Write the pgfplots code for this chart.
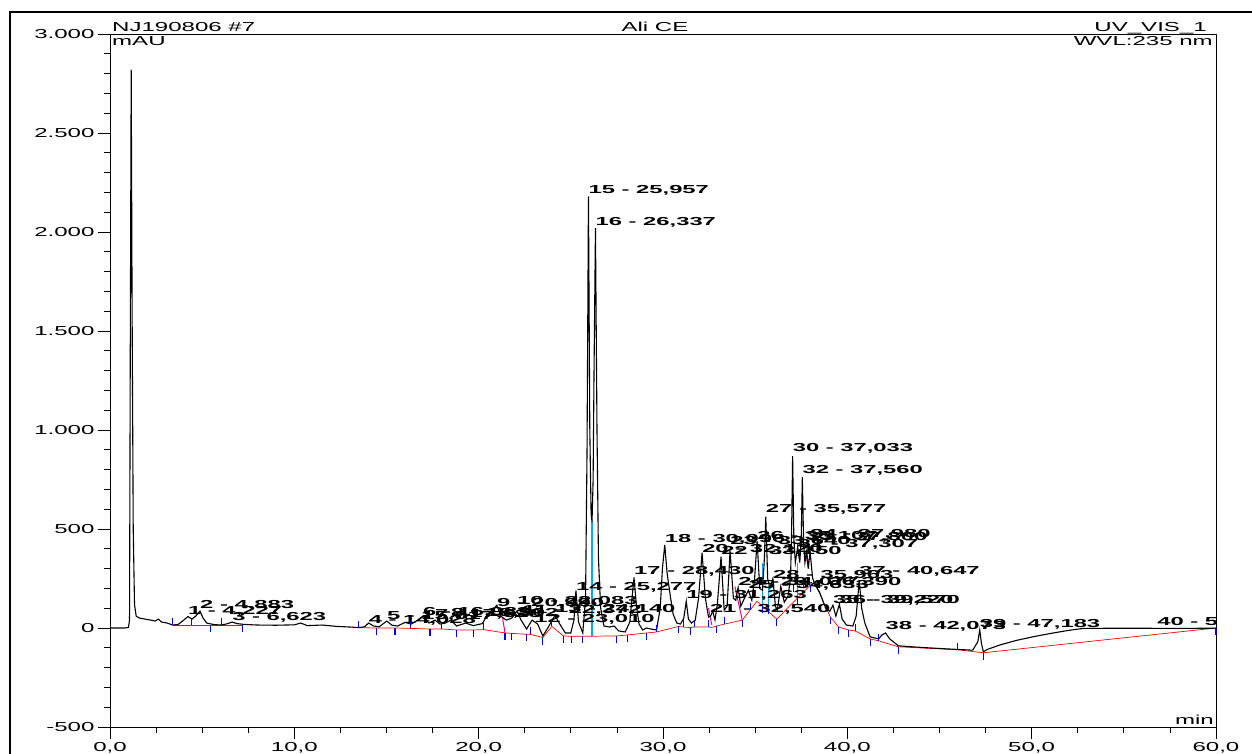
\documentclass[border=0pt]{standalone}
\usepackage{fontspec}
\newfontfamily\tickfont[FakeStretch=1.85]{Liberation Sans}
\newfontfamily\peakfont[FakeStretch=2.05]{Liberation Sans}
\usepackage{pgfplots}
\pgfplotsset{compat=1.18}

\tikzset{
  peak/.style={anchor=base west, inner sep=0pt, font=\peakfont\bfseries\fontsize{11.6}{12}\selectfont},
  hdr/.style={inner sep=0pt, font=\tickfont\fontsize{13}{13}\selectfont},
}

\begin{document}
\begin{tikzpicture}
\useasboundingbox (-110pt,-26pt) rectangle (1142pt,727pt);
\draw[line width=2pt] (-100pt,-40pt) -- (-100pt,715pt) -- (1160pt,715pt);

\begin{axis}[
    name=ax, at={(0,0)}, anchor=south west,
    scale only axis, width=1106pt, height=693pt,
    xmin=0, xmax=60, ymin=-500, ymax=3000,
    xtick={0,10,...,60},
    xticklabels={{0,0},{10,0},{20,0},{30,0},{40,0},{50,0},{60,0}},
    ytick={-500,0,...,3000},
    yticklabels={-500,0,500,1.000,1.500,2.000,2.500,3.000},
    minor x tick num=3, minor y tick num=4,
    tick align=outside, xtick pos=bottom, ytick pos=left,
    major tick length=12pt, minor tick length=6pt,
    tick style={black, line width=0.7pt},
    axis line style={line width=0.8pt},
    ticklabel style={font=\tickfont\fontsize{13}{13}\selectfont},
]

% integration baseline
\addplot[red, line width=0.7pt] coordinates {(3.4,15) (7.18,15)};
\addplot[red, line width=0.7pt] coordinates {
 (13.47,2) (14.47,0) (15.46,0) (16.28,-2) (17.36,-5) (18.0,-5) (18.8,-10) (19.7,-10)
 (20.26,-8) (21.43,-25) (21.8,-27) (22.6,-32) (22.8,-32) (23.48,-48) (23.97,8) (24.6,-40)
 (25.05,-42) (25.65,-42) (27.49,-40) (28.07,-35) (29.12,-25) (29.66,-20) (30.84,8) (31.1,5)
 (31.47,2) (31.7,5) (32.47,5) (32.65,3) (32.9,10) (33.35,20) (34.3,40) (35.1,135)
 (36.17,45) (37.98,215) (38.3,215) (39.08,55) (39.53,5) (40.07,-10) (40.43,-15) (41.24,-55)
 (41.7,-65) (42.77,-95) (46.0,-110) (47.38,-125) (60,0)
};

% drop lines
\addplot[cyan, line width=1pt] coordinates {(26.1,540) (26.1,-42)};
\addplot[cyan, line width=1pt] coordinates {(26.2,540) (26.2,-42)};
\addplot[cyan, line width=1pt] coordinates {(35.38,330) (35.38,110)};
\addplot[cyan, line width=1pt] coordinates {(35.75,210) (35.75,75)};
\addplot[cyan, line width=1pt] coordinates {(37.3,330) (37.3,150)};
\addplot[magenta, line width=1pt] coordinates {(21.3,50) (21.43,-25)};
\addplot[magenta, line width=1pt] coordinates {(32.47,100) (32.65,15)};
\addplot[magenta, line width=1pt] coordinates {(33.9,210) (34.3,40)};
\addplot[magenta, line width=1pt] coordinates {(37.72,385) (37.9,300)};

% chromatogram
\addplot[black, line width=1.1pt] coordinates {
 (0,0) (0.8,0) (1.0,3) (1.06,40) (1.1,1400) (1.15,2820) (1.2,1600) (1.26,500) (1.33,120)
 (1.42,60) (1.6,50) (1.9,45) (2.2,40) (2.45,35) (2.62,45) (2.8,30) (3.1,25) (3.4,15)
 (3.7,18) (4.0,40) (4.227,58) (4.45,45) (4.65,60) (4.883,85) (5.05,50) (5.25,25) (5.6,18)
 (6.0,15) (6.3,20) (6.623,30) (6.9,22) (7.3,18) (8.0,15) (9.0,14) (10.0,16) (10.35,25)
 (10.7,12) (11.5,15) (12.3,8) (13.0,5) (13.5,2) (13.8,6) (14.028,25) (14.3,10) (14.6,6)
 (15.017,35) (15.3,14) (15.6,10) (16.0,28) (16.35,20) (16.7,40) (16.983,60) (17.3,25)
 (17.628,40) (17.9,20) (18.2,25) (18.502,40) (18.8,10) (19.3,25) (19.7,12) (20.2,22)
 (20.5,70) (20.75,90) (20.99,115) (21.2,60) (21.5,40) (21.8,50) (22.083,85) (22.3,40)
 (22.6,-5) (22.9,40) (23.2,20) (23.48,-40) (23.75,0) (24.0,40) (24.14,65) (24.4,20)
 (24.7,-25) (25.0,-25) (25.17,40) (25.277,190) (25.42,30) (25.65,-25) (25.8,150) (25.88,900)
 (25.957,2180) (26.03,1000) (26.1,580) (26.15,535) (26.21,750) (26.26,1300) (26.337,2020)
 (26.42,1000) (26.5,350) (26.62,100) (26.8,10) (27.1,5) (27.35,10) (27.6,-15) (27.95,-20)
 (28.2,30) (28.32,150) (28.43,255) (28.55,120) (28.7,20) (28.9,-10) (29.1,0) (29.35,-5)
 (29.65,-10) (29.85,100) (29.97,300) (30.096,420) (30.22,280) (30.4,160) (30.55,70)
 (30.75,25) (30.95,20) (31.13,50) (31.263,135) (31.38,45) (31.55,25) (31.75,40) (31.93,150)
 (32.12,380) (32.3,150) (32.47,55) (32.58,60) (32.7,85) (32.82,40) (32.95,120) (33.15,360)
 (33.32,90) (33.48,110) (33.64,390) (33.82,150) (33.95,140) (34.077,205) (34.22,110)
 (34.42,150) (34.633,190) (34.82,140) (34.97,250) (35.107,440) (35.25,200) (35.4,190)
 (35.5,350) (35.577,562) (35.68,250) (35.8,200) (35.963,250) (36.1,110) (36.2,90)
 (36.39,210) (36.58,130) (36.78,160) (36.92,250) (36.98,500) (37.033,868) (37.1,450)
 (37.18,330) (37.307,410) (37.42,330) (37.5,450) (37.56,762) (37.63,430) (37.7,330)
 (37.8,390) (37.88,300) (37.98,385) (38.12,250) (38.3,210) (38.5,180) (38.7,130) (38.85,95)
 (39.05,85) (39.22,115) (39.38,60) (39.57,120) (39.72,45) (39.95,15) (40.3,10) (40.48,60)
 (40.647,240) (40.78,100) (40.95,25) (41.24,-45) (41.7,-55) (41.88,-35) (42.073,-25)
 (42.3,-55) (42.77,-90) (44.0,-98) (45.5,-106) (46.8,-112) (47.08,-70) (47.183,-10)
 (47.28,-80) (47.38,-120) (47.6,-108) (48.3,-85) (49.2,-62) (50.2,-42) (51.0,-28)
 (52.0,-12) (52.8,-2) (55,-1) (58,-2) (60,-1)
};

% peak start / end marks
\addplot[only marks, blue, mark=|, mark size=3.5pt, mark options={yshift=3.5pt, line width=1.1pt}] coordinates {
 (3.4,15) (4.43,15) (6.06,15) (13.47,2) (16.28,-2) (18.0,-5) (20.26,-8) (22.8,-32) (23.97,8)
 (29.66,-20) (31.1,5) (31.7,5) (32.47,5) (33.35,20) (34.75,90) (35.7,70) (37.1,180) (37.6,200)
 (40.43,-15) (41.7,-65) (46.0,-110)
};
\addplot[only marks, blue, mark=|, mark size=3.5pt, mark options={yshift=-3.5pt, line width=1.1pt}] coordinates {
 (5.43,15) (7.18,15) (14.47,0) (15.46,0) (17.36,-5) (18.8,-10) (19.7,-10) (21.43,-25)
 (21.8,-27) (22.6,-32) (23.48,-48) (24.6,-40) (25.05,-42) (25.65,-42) (27.49,-40) (28.07,-35)
 (29.12,-25) (30.84,8) (31.47,2) (32.9,10) (34.3,40) (35.38,110) (36.17,45) (37.3,150)
 (37.98,215) (39.08,55) (39.53,5) (40.07,-10) (41.24,-55) (42.77,-95) (47.38,-125) (60,0)
};

% peak labels
\node[peak] at (axis cs:4.227,66) {1 - 4,227};
\node[peak] at (axis cs:4.883,100) {2 - 4,883};
\node[peak] at (axis cs:6.623,40) {3 - 6,623};
\node[peak] at (axis cs:14.028,25) {4 - 14,028};
\node[peak] at (axis cs:15.017,45) {5 - 15,017};
\node[peak] at (axis cs:16.983,65) {6 - 16,983};
\node[peak] at (axis cs:17.628,55) {7 - 17,628};
\node[peak] at (axis cs:18.502,60) {8 - 18,502};
\node[peak] at (axis cs:20.990,110) {9 - 20,990};
\node[peak] at (axis cs:22.083,120) {10 - 22,083};
\node[peak] at (axis cs:22.372,75) {11 - 22,372};
\node[peak] at (axis cs:23.010,30) {12 - 23,010};
\node[peak] at (axis cs:24.140,80) {13 - 24,140};
\node[peak] at (axis cs:25.277,190) {14 - 25,277};
\node[peak] at (axis cs:25.957,2195) {15 - 25,957};
\node[peak] at (axis cs:26.337,2035) {16 - 26,337};
\node[peak] at (axis cs:28.430,268) {17 - 28,430};
\node[peak] at (axis cs:30.096,434) {18 - 30,096};
\node[peak] at (axis cs:31.263,150) {19 - 31,263};
\node[peak] at (axis cs:32.120,380) {20 - 32,120};
\node[peak] at (axis cs:32.540,80) {21 - 32,540};
\node[peak] at (axis cs:33.150,370) {22 - 33,150};
\node[peak] at (axis cs:33.640,420) {23 - 33,640};
\node[peak] at (axis cs:34.077,217) {24 - 34,077};
\node[peak] at (axis cs:34.633,200) {25 - 34,633};
\node[peak] at (axis cs:35.107,445) {26 - 35,107};
\node[peak] at (axis cs:35.577,585) {27 - 35,577};
\node[peak] at (axis cs:35.963,252) {28 - 35,963};
\node[peak] at (axis cs:36.390,217) {29 - 36,390};
\node[peak] at (axis cs:37.033,889) {30 - 37,033};
\node[peak] at (axis cs:37.307,409) {31 - 37,307};
\node[peak] at (axis cs:37.560,778) {32 - 37,560};
\node[peak] at (axis cs:37.800,444) {33 - 37,800};
\node[peak] at (axis cs:37.980,455) {34 - 37,980};
\node[peak] at (axis cs:39.220,126) {35 - 39,220};
\node[peak] at (axis cs:39.570,126) {36 - 39,570};
\node[peak] at (axis cs:40.647,268) {37 - 40,647};
\node[peak] at (axis cs:42.073,-10) {38 - 42,073};
\node[peak] at (axis cs:47.183,5) {39 - 47,183};
\node[peak] at (axis cs:56.810,15) {40 - 56,810};
\end{axis}

\node[hdr, anchor=base west] at ([xshift=2pt,yshift=2pt]ax.north west) {NJ190806 \#7};
\node[hdr, anchor=north west] at ([xshift=2pt,yshift=-2.5pt]ax.north west) {mAU};
\node[hdr, anchor=base] at ([xshift=545pt,yshift=2pt]ax.north west) {Ali CE};
\node[hdr, anchor=base east] at ([xshift=-9pt,yshift=2pt]ax.north east) {UV\_VIS\_1};
\node[hdr, anchor=north east] at ([xshift=-3pt,yshift=-2.5pt]ax.north east) {WVL:235 nm};
\node[hdr, anchor=base east] at ([xshift=-2pt,yshift=3pt]ax.south east) {min};
\end{tikzpicture}
\end{document}
